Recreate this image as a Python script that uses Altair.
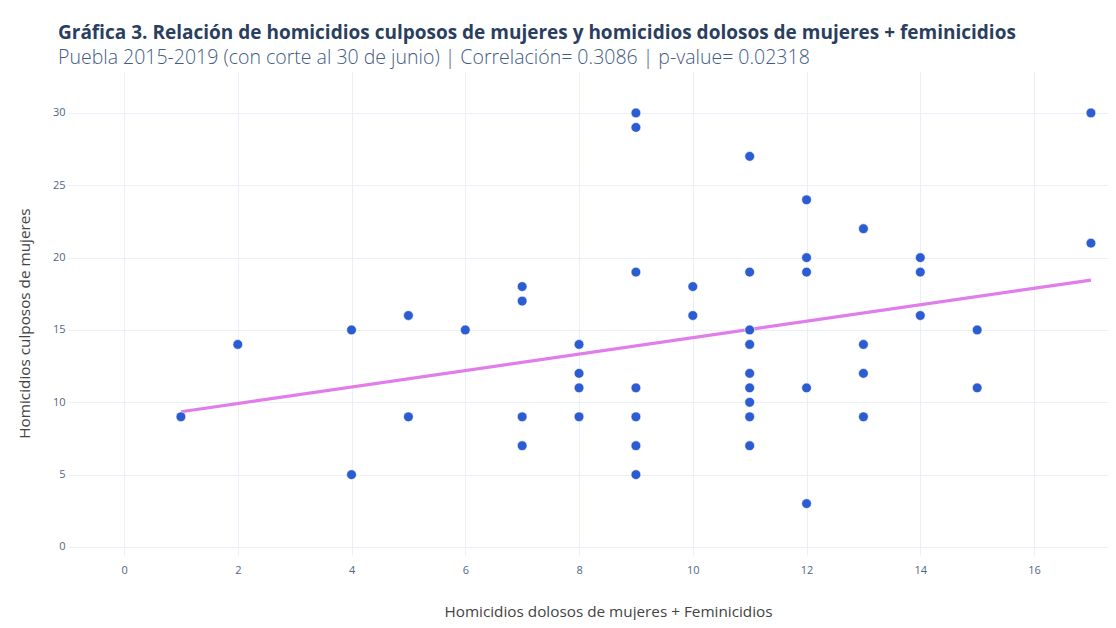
import altair as alt
import pandas as pd

# Data (x: homicidios dolosos + feminicidios, y: homicidios culposos)
x_vals = [1, 2, 4, 4, 5, 5, 6, 7, 7, 7, 7, 8, 8, 8, 8,
          9, 9, 9, 9, 9, 9, 9, 10, 10,
          11, 11, 11, 11, 11, 11, 11, 11, 11,
          12, 12, 12, 12, 12, 13, 13, 13, 13, 14, 14, 14, 15, 15, 17, 17]
y_vals = [9, 14, 15, 5, 16, 9, 15, 18, 17, 9, 7, 14, 12, 11, 9,
          30, 29, 19, 11, 9, 7, 5, 18, 16,
          27, 19, 15, 14, 12, 11, 10, 9, 7,
          24, 20, 19, 11, 3, 22, 14, 12, 9, 20, 19, 16, 15, 11, 30, 21]

# Fitted line endpoints
fit_x = [1, 17]
fit_y = [9.35, 18.45]

x_ticks = [0, 2, 4, 6, 8, 10, 12, 14, 16]
y_ticks = [0, 5, 10, 15, 20, 25, 30]

pts = pd.DataFrame({"x": x_vals, "y": y_vals})
fit = pd.DataFrame({"x": fit_x, "y": fit_y})

xscale = alt.Scale(domain=[-0.985, 17.30], nice=False, zero=False)
yscale = alt.Scale(domain=[-0.553, 32.9], nice=False, zero=False)

xaxis = alt.Axis(values=x_ticks, format="d", title="Homicidios dolosos de mujeres + Feminicidios",
                 titleX=540, titleY=56, titleBaseline="middle", titleAlign="center")
yaxis = alt.Axis(values=y_ticks, format="d", title="Homicidios culposos de mujeres",
                 titleX=-44, titleY=252, titleAngle=-90, titleBaseline="middle",
                 titleAlign="center")

line = alt.Chart(fit).mark_line(color="#E07DEB", strokeWidth=3.2, clip=True).encode(
    x=alt.X("x:Q", scale=xscale, axis=xaxis),
    y=alt.Y("y:Q", scale=yscale, axis=yaxis),
)

points = alt.Chart(pts).mark_circle(color="#2C5CD2", size=95, opacity=1,
                                    stroke="white", strokeWidth=0.6, clip=True).encode(
    x=alt.X("x:Q", scale=xscale),
    y=alt.Y("y:Q", scale=yscale),
)

chart = alt.layer(line, points).properties(
    width=1040,
    height=484,
    background="white",
    autosize=alt.AutoSizeParams(type="none"),
    padding={"left": 60, "top": 63, "right": 0, "bottom": 65},
    title=alt.Title(
        text="Gráfica 3. Relación de homicidios culposos de mujeres y homicidios dolosos de mujeres + feminicidios",
        subtitle="Puebla 2015-2019 (con corte al 30 de junio) | Correlación= 0.3086 | p-value= 0.02318",
        anchor="start", frame="group", dx=-10, offset=4,
        font="Open Sans", fontSize=19, fontWeight="bold", color="#2A3F5F",
        subtitleFont="Open Sans", subtitleFontSize=19.5, subtitleFontWeight=300,
        subtitleColor="#3F5C84", subtitlePadding=6,
    ),
).configure_view(stroke=None).configure_axis(
    grid=True, gridColor="#EBF0F8", gridWidth=1, domain=False, ticks=False,
    labelFont="Open Sans", labelFontSize=11, labelColor="#506784",
    titleFont="Open Sans", titleFontSize=15.3, titleColor="#444444", titleFontWeight="normal",
).configure_axisX(labelPadding=9).configure_axisY(labelPadding=3)

chart.save("out.html", embed_options={"renderer": "svg", "actions": False})
